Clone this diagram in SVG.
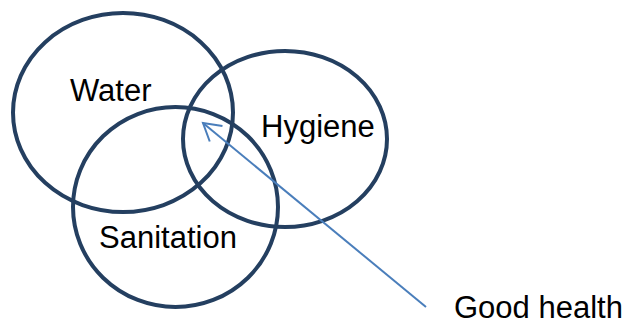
<svg xmlns="http://www.w3.org/2000/svg" width="628" height="325" viewBox="0 0 628 325">
  <style>
    .ring { fill: none; stroke: #243f60; stroke-width: 4; }
    .lbl { font-family: "Liberation Sans", Arial, sans-serif; font-size: 31px; fill: #000000; }
    .conn { stroke: #4a7ebb; stroke-width: 2; fill: none; }
  </style>
  <defs>
    <marker id="openArrow" markerUnits="userSpaceOnUse" markerWidth="30" markerHeight="30" viewBox="-20 -15 30 30" refX="0" refY="0" orient="auto">
      <path d="M -17 -10 L 0 0 L -17 10" fill="none" stroke="#4a7ebb" stroke-width="2"/>
    </marker>
  </defs>
  <rect x="0" y="0" width="628" height="325" fill="#ffffff"/>
  <g id="water">
    <ellipse class="ring" cx="123" cy="112.5" rx="110" ry="99.5"/>
    <text class="lbl" x="70" y="101">Water</text>
  </g>
  <g id="hygiene">
    <ellipse class="ring" cx="285" cy="139" rx="102" ry="88"/>
    <text class="lbl" x="261" y="137">Hygiene</text>
  </g>
  <g id="sanitation">
    <ellipse class="ring" cx="175.5" cy="207" rx="102.5" ry="100"/>
    <text class="lbl" x="99" y="248">Sanitation</text>
  </g>
  <g id="good-health">
    <text class="lbl" x="454" y="318">Good health</text>
  </g>
  <g id="connectors">
    <line class="conn" x1="426" y1="307" x2="203" y2="123" marker-end="url(#openArrow)"/>
  </g>
</svg>
